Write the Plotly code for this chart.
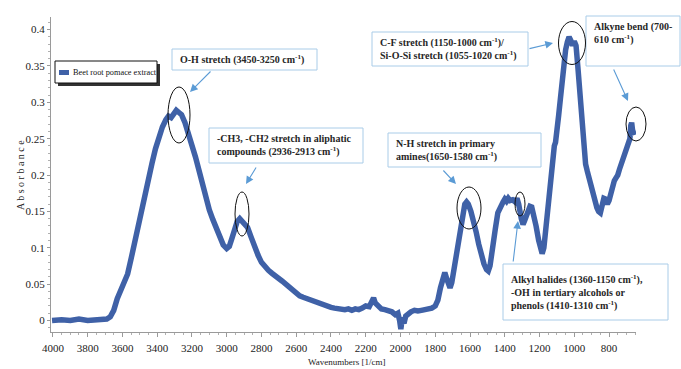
import plotly.graph_objects as go

# ---------------- data ----------------
wavenumber = [4005, 3950, 3900, 3850, 3800, 3750, 3700, 3690, 3670, 3650, 3630, 3610, 3590, 3570,
              3550, 3530, 3510, 3490, 3470, 3450, 3430, 3410, 3390, 3370, 3350, 3335, 3320, 3305,
              3290, 3275, 3260, 3240, 3220, 3200, 3180, 3160, 3140, 3120, 3100, 3080, 3060, 3040,
              3020, 3000, 2985, 2970, 2955, 2940, 2925, 2910, 2895, 2880, 2860, 2840, 2820, 2800,
              2780, 2760, 2740, 2720, 2700, 2680, 2660, 2640, 2620, 2600, 2580, 2560, 2540, 2520,
              2500, 2480, 2460, 2440, 2420, 2400, 2380, 2360, 2340, 2320, 2300, 2280, 2260, 2240,
              2220, 2200, 2180, 2165, 2155, 2145, 2130, 2110, 2090, 2070, 2050, 2030, 2015, 2005,
              1998, 1990, 1980, 1970, 1955, 1940, 1920, 1900, 1880, 1860, 1840, 1820, 1800, 1785,
              1770, 1755, 1745, 1735, 1725, 1715, 1705, 1690, 1675, 1660, 1645, 1630, 1620, 1610,
              1595, 1580, 1565, 1550, 1535, 1520, 1505, 1495, 1485, 1470, 1455, 1440, 1425, 1410,
              1400, 1390, 1380, 1370, 1355, 1340, 1330, 1320, 1305, 1295, 1285, 1270, 1255, 1245,
              1235, 1220, 1205, 1195, 1185, 1175, 1165, 1155, 1145, 1135, 1125, 1115, 1108, 1100,
              1090, 1080, 1070, 1060, 1050, 1040, 1030, 1020, 1010, 1000, 990, 980, 970, 960,
              950, 940, 935, 925, 910, 895, 880, 870, 860, 850, 840, 830, 820, 810,
              800, 790, 780, 770, 760, 750, 740, 730, 720, 710, 700, 690, 680, 675,
              670, 665, 660, 655]
absorbance = [0.000, 0.001, 0.000, 0.002, 0.000, 0.001, 0.001, 0.002, 0.005, 0.014, 0.030, 0.040, 0.050, 0.064,
              0.085, 0.108, 0.132, 0.154, 0.176, 0.197, 0.216, 0.236, 0.254, 0.266, 0.276, 0.281, 0.279, 0.285,
              0.289, 0.286, 0.283, 0.272, 0.258, 0.242, 0.225, 0.207, 0.188, 0.170, 0.152, 0.139, 0.126, 0.114,
              0.104, 0.099, 0.102, 0.113, 0.125, 0.136, 0.140, 0.136, 0.133, 0.128, 0.115, 0.100, 0.090, 0.080,
              0.073, 0.069, 0.065, 0.062, 0.058, 0.054, 0.050, 0.046, 0.041, 0.037, 0.034, 0.032, 0.030, 0.028,
              0.026, 0.024, 0.023, 0.021, 0.020, 0.018, 0.017, 0.016, 0.016, 0.015, 0.016, 0.014, 0.016, 0.015,
              0.017, 0.020, 0.019, 0.027, 0.031, 0.024, 0.020, 0.016, 0.015, 0.014, 0.012, 0.008, 0.010, 0.000,
              -0.012, 0.004, -0.004, 0.006, 0.010, 0.012, 0.014, 0.013, 0.014, 0.015, 0.016, 0.017, 0.020, 0.028,
              0.045, 0.062, 0.066, 0.058, 0.048, 0.045, 0.052, 0.075, 0.100, 0.125, 0.148, 0.160, 0.163, 0.160,
              0.150, 0.138, 0.122, 0.105, 0.090, 0.078, 0.070, 0.068, 0.075, 0.095, 0.125, 0.148, 0.158, 0.163,
              0.167, 0.164, 0.168, 0.165, 0.166, 0.163, 0.168, 0.160, 0.140, 0.132, 0.138, 0.150, 0.157, 0.156,
              0.148, 0.130, 0.110, 0.097, 0.092, 0.100, 0.125, 0.150, 0.178, 0.205, 0.228, 0.240, 0.245, 0.258,
              0.282, 0.305, 0.330, 0.355, 0.372, 0.383, 0.390, 0.385, 0.378, 0.384, 0.378, 0.350, 0.318, 0.285,
              0.255, 0.225, 0.215, 0.205, 0.190, 0.177, 0.163, 0.155, 0.150, 0.148, 0.158, 0.168, 0.167, 0.160,
              0.165, 0.176, 0.186, 0.192, 0.196, 0.200, 0.208, 0.216, 0.222, 0.228, 0.236, 0.242, 0.250, 0.268,
              0.272, 0.262, 0.258, 0.255]

series_name = "Beet root pomace extract"
x_tickvals = [4000, 3800, 3600, 3400, 3200, 3000, 2800, 2600, 2400, 2200, 2000, 1800, 1600, 1400, 1200, 1000, 800]
x_ticktext = [str(v) for v in x_tickvals]
y_tickvals = [0, 0.05, 0.1, 0.15, 0.2, 0.25, 0.3, 0.35, 0.4]
y_ticktext = ["0", "0.05", "0.1", "0.15", "0.2", "0.25", "0.3", "0.35", "0.4"]

labels = [
    "<b>O-H stretch (3450-3250 cm<sup>-1</sup>)</b>",
    "<b>-CH3, -CH2 stretch in aliphatic<br>compounds (2936-2913 cm<sup>-1</sup>)</b>",
    "<b>N-H stretch in primary<br>amines(1650-1580 cm<sup>-1</sup>)</b>",
    "<b>C-F stretch (1150-1000 cm<sup>-1</sup>)/<br>Si-O-Si stretch (1055-1020 cm<sup>-1</sup>)</b>",
    "<b>Alkyne bend (700-<br>610 cm<sup>-1</sup>)</b>",
    "<b>Alkyl halides (1360-1150 cm<sup>-1</sup>),<br>-OH in tertiary alcohols or<br>phenols (1410-1310 cm<sup>-1</sup>)</b>",
]

# ---------------- layout geometry ----------------
W, H = 681, 369
L, R, T, B = 51, 45, 17, 37
PW, PH = W - L - R, H - T - B

def px(xp):
    return (xp - L) / PW

def py(yp):
    return 1 - (yp - T) / PH

LINE_COLOR = "#3F61A7"
BOX_COLOR = "#A9CCE8"
ARROW_COLOR = "#5B9BD5"
SERIF = "Liberation Serif"

fig = go.Figure()
fig.add_trace(go.Scatter(
    x=wavenumber, y=absorbance, mode="lines", name=series_name,
    line=dict(color=LINE_COLOR, width=5.5), showlegend=False,
))

shapes = []
annotations = []

# text boxes: (left, top, right, bottom) in pixels
boxes = [
    (172, 49, 317, 70),
    (209, 128, 363, 163),
    (388, 133, 541, 167),
    (372, 32, 528, 66),
    (586, 16, 680, 66),
    (503, 264, 668, 320),
]
text_valign_top = [False, False, False, False, True, False]
for (x0, y0, x1, y1), txt, top in zip(boxes, labels, text_valign_top):
    shapes.append(dict(type="rect", xref="paper", yref="paper",
                       x0=px(x0), x1=px(x1), y0=py(y1), y1=py(y0),
                       line=dict(color=BOX_COLOR, width=1), fillcolor="white", layer="above"))
    annotations.append(dict(xref="paper", yref="paper",
                            x=px(x0 + 6), y=py(y0 + 3) if top else py((y0 + y1) / 2),
                            xanchor="left", yanchor="top" if top else "middle",
                            align="left", showarrow=False, text=txt,
                            font=dict(family=SERIF, size=10, color="#262626")))

# ellipses: (cx, cy, rx, ry) in pixels
ellipses = [
    (179, 115, 11, 28),
    (242, 214, 7, 22),
    (469, 208, 12, 21),
    (572, 43, 13.5, 21.5),
    (636, 124, 10, 17),
    (520, 204, 5, 12),
]
for cx, cy, rx, ry in ellipses:
    shapes.append(dict(type="circle", xref="paper", yref="paper",
                       x0=px(cx - rx), x1=px(cx + rx), y0=py(cy + ry), y1=py(cy - ry),
                       line=dict(color="#111111", width=1), layer="above"))

# arrows: (tail_x, tail_y, head_x, head_y) in pixels
arrows = [
    (212, 70, 190, 92),
    (257, 166, 246, 184),
    (442, 169, 456, 184),
    (528, 49, 553, 43),
    (613, 68, 628, 101),
    (513, 263, 518, 221),
]
for tx, ty, hx, hy in arrows:
    annotations.append(dict(xref="paper", yref="paper", x=px(hx), y=py(hy),
                            ax=tx - hx, ay=ty - hy, axref="pixel", ayref="pixel",
                            text="", showarrow=True, arrowhead=2, arrowsize=1.4,
                            arrowwidth=1.1, arrowcolor=ARROW_COLOR))

# legend (drawn manually with shadow)
shapes.append(dict(type="rect", xref="paper", yref="paper",
                   x0=px(58), x1=px(160), y0=py(86), y1=py(64),
                   line=dict(width=0), fillcolor="#333333", layer="above"))
shapes.append(dict(type="rect", xref="paper", yref="paper",
                   x0=px(55), x1=px(157), y0=py(83), y1=py(61),
                   line=dict(color="#111111", width=1), fillcolor="white", layer="above"))
shapes.append(dict(type="line", xref="paper", yref="paper",
                   x0=px(59), x1=px(69), y0=py(72.5), y1=py(72.5),
                   line=dict(color=LINE_COLOR, width=5), layer="above"))
annotations.append(dict(xref="paper", yref="paper", x=px(71), y=py(72.5),
                        xanchor="left", yanchor="middle", showarrow=False,
                        text=series_name, font=dict(family=SERIF, size=8.3, color="#111111")))

# axis titles
annotations.append(dict(xref="paper", yref="paper", x=px(347), y=py(362),
                        xanchor="center", yanchor="middle", showarrow=False,
                        text="Wavenumbers [1/cm]", font=dict(family=SERIF, size=9, color="#222222")))
annotations.append(dict(xref="paper", yref="paper", x=px(20), y=py(175),
                        xanchor="center", yanchor="middle", showarrow=False, textangle=-90,
                        text="A b s o r b a n c e", font=dict(family=SERIF, size=10, color="#222222")))

fig.update_layout(
    width=W, height=H, margin=dict(l=L, r=R, t=T, b=B),
    paper_bgcolor="white", plot_bgcolor="white",
    shapes=shapes, annotations=annotations, showlegend=False,
)
fig.update_xaxes(range=[4011, 645], showgrid=False, zeroline=False,
                 showline=True, linecolor="#9a9a9a", linewidth=1,
                 tickmode="array", tickvals=x_tickvals, ticktext=x_ticktext,
                 ticks="outside", ticklen=4, tickcolor="#9a9a9a", ticklabelstandoff=2,
                 minor=dict(dtick=50, ticks="outside", ticklen=2, tickcolor="#b0b0b0"),
                 tickfont=dict(family=SERIF, size=11, color="#222222"))
fig.update_yaxes(range=[-0.0158, 0.4173], showgrid=False, zeroline=False,
                 showline=True, linecolor="#9a9a9a", linewidth=1,
                 tickmode="array", tickvals=y_tickvals, ticktext=y_ticktext,
                 ticks="outside", ticklen=3, tickcolor="#9a9a9a",
                 minor=dict(dtick=0.01, ticks="outside", ticklen=2, tickcolor="#b0b0b0"),
                 tickfont=dict(family=SERIF, size=11, color="#222222"))

fig.write_html("out.html", config={"displayModeBar": False},
               post_script="document.body.style.margin='0';document.body.style.overflow='hidden';")
